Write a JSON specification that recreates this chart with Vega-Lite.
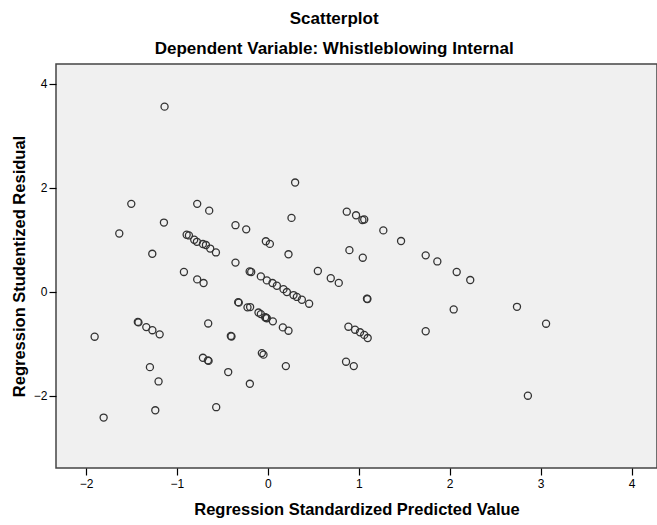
{
  "$schema": "https://vega.github.io/schema/vega-lite/v6.json",
  "width": 601,
  "height": 404,
  "padding": {"left": 56, "top": 64, "right": 0, "bottom": 57},
  "autosize": {"type": "none"},
  "background": "white",
  "config": {
    "font": "Liberation Sans",
    "view": {"fill": "#f0f0f0", "stroke": "#444444", "strokeWidth": 1.5}
  },
  "title": {
    "text": "Scatterplot",
    "subtitle": "Dependent Variable: Whistleblowing Internal",
    "anchor": "middle",
    "frame": "bounds",
    "font": "Liberation Sans",
    "fontSize": 17,
    "fontWeight": "bold",
    "color": "#000000",
    "subtitleFont": "Liberation Sans",
    "subtitleFontSize": 17,
    "subtitleFontWeight": "bold",
    "subtitleColor": "#000000",
    "subtitlePadding": 13,
    "offset": 6
  },
  "data": {
    "values": [
      {"x": -1.136, "y": 3.56},
      {"x": -1.502, "y": 1.69},
      {"x": -1.634, "y": 1.12},
      {"x": -1.143, "y": 1.33},
      {"x": -1.271, "y": 0.73},
      {"x": -0.777, "y": 1.69},
      {"x": -0.645, "y": 1.56},
      {"x": -0.356, "y": 1.28},
      {"x": -0.238, "y": 1.2},
      {"x": -0.356, "y": 0.56},
      {"x": -0.893, "y": 1.096},
      {"x": -0.868, "y": 1.083},
      {"x": -0.81, "y": 1.0},
      {"x": -0.78, "y": 0.96},
      {"x": -0.714, "y": 0.917},
      {"x": -0.681, "y": 0.898},
      {"x": -0.634, "y": 0.83},
      {"x": -0.571, "y": 0.756},
      {"x": -0.022, "y": 0.97},
      {"x": 0.022, "y": 0.92},
      {"x": 0.3, "y": 2.1},
      {"x": 0.26, "y": 1.42},
      {"x": 0.227, "y": 0.72},
      {"x": 0.868, "y": 1.54},
      {"x": 0.97, "y": 1.47},
      {"x": 1.04, "y": 1.38},
      {"x": 1.06, "y": 1.39},
      {"x": 1.27, "y": 1.18},
      {"x": 1.465, "y": 0.975},
      {"x": 0.897, "y": 0.8},
      {"x": 1.044, "y": 0.654},
      {"x": 1.736, "y": 0.7},
      {"x": 1.864, "y": 0.583},
      {"x": 2.077, "y": 0.38},
      {"x": 2.226, "y": 0.225},
      {"x": 2.044, "y": -0.34},
      {"x": 2.74, "y": -0.29},
      {"x": 3.06, "y": -0.615},
      {"x": 2.86, "y": -2.0},
      {"x": 0.55, "y": 0.4},
      {"x": 0.692, "y": 0.26},
      {"x": 0.78, "y": 0.17},
      {"x": 1.09, "y": -0.135},
      {"x": 1.095, "y": -0.14},
      {"x": 1.736, "y": -0.76},
      {"x": -0.2, "y": 0.39},
      {"x": -0.183, "y": 0.38},
      {"x": -0.077, "y": 0.295},
      {"x": -0.011, "y": 0.218},
      {"x": 0.051, "y": 0.167},
      {"x": 0.099, "y": 0.115},
      {"x": 0.172, "y": 0.05},
      {"x": 0.209, "y": -0.006},
      {"x": 0.282, "y": -0.064},
      {"x": 0.319, "y": -0.1},
      {"x": 0.374, "y": -0.154},
      {"x": 0.454, "y": -0.23},
      {"x": -0.195, "y": -0.295},
      {"x": -0.224, "y": -0.3},
      {"x": -0.103, "y": -0.4},
      {"x": -0.077, "y": -0.43},
      {"x": -0.03, "y": -0.49},
      {"x": -0.011, "y": -0.51},
      {"x": -0.02, "y": -0.5},
      {"x": 0.055, "y": -0.57},
      {"x": 0.165, "y": -0.686},
      {"x": 0.227, "y": -0.75},
      {"x": -0.066, "y": -1.18},
      {"x": -0.048, "y": -1.21},
      {"x": 0.198, "y": -1.43},
      {"x": 0.886, "y": -0.673},
      {"x": 0.959, "y": -0.73},
      {"x": 1.014, "y": -0.78},
      {"x": 1.06, "y": -0.83},
      {"x": 1.098, "y": -0.89},
      {"x": 0.86, "y": -1.346},
      {"x": 0.945, "y": -1.43},
      {"x": -0.198, "y": -1.77},
      {"x": -0.923, "y": 0.38},
      {"x": -0.777, "y": 0.237},
      {"x": -0.707, "y": 0.167},
      {"x": -0.326, "y": -0.2},
      {"x": -0.32, "y": -0.21},
      {"x": -0.656, "y": -0.61},
      {"x": -0.407, "y": -0.85},
      {"x": -0.4, "y": -0.86},
      {"x": -0.714, "y": -1.27},
      {"x": -0.659, "y": -1.32},
      {"x": -0.652, "y": -1.33},
      {"x": -0.436, "y": -1.545},
      {"x": -0.568, "y": -2.22},
      {"x": -1.905, "y": -0.865},
      {"x": -1.43, "y": -0.58},
      {"x": -1.423, "y": -0.59},
      {"x": -1.337, "y": -0.68},
      {"x": -1.27, "y": -0.74},
      {"x": -1.19, "y": -0.82},
      {"x": -1.297, "y": -1.45},
      {"x": -1.202, "y": -1.725},
      {"x": -1.238, "y": -2.28},
      {"x": -1.806, "y": -2.42}
    ]
  },
  "mark": {"type": "point", "shape": "circle", "filled": false, "size": 50, "stroke": "#333333", "strokeWidth": 1.3, "opacity": 1, "clip": true},
  "encoding": {
    "x": {
      "field": "x",
      "type": "quantitative",
      "scale": {"domain": [-2.33, 4.28], "nice": false, "zero": false},
      "axis": {
        "values": [-2, -1, 0, 1, 2, 3, 4],
        "title": "Regression Standardized Predicted Value",
        "titleFont": "Liberation Sans",
        "titleFontSize": 16.5,
        "titleFontWeight": "bold",
        "titleColor": "#000000",
        "titlePadding": 12,
        "labelFont": "Liberation Sans",
        "labelFontSize": 12,
        "labelColor": "#000000",
        "labelPadding": 3,
        "tickSize": 7,
        "tickColor": "#000000",
        "tickWidth": 1.2,
        "domain": false,
        "grid": false
      }
    },
    "y": {
      "field": "y",
      "type": "quantitative",
      "scale": {"domain": [-3.39, 4.38], "nice": false, "zero": false},
      "axis": {
        "values": [-2, 0, 2, 4],
        "title": "Regression Studentized Residual",
        "titleFont": "Liberation Sans",
        "titleFontSize": 16.5,
        "titleFontWeight": "bold",
        "titleColor": "#000000",
        "titlePadding": 6,
        "labelFont": "Liberation Sans",
        "labelFontSize": 12,
        "labelColor": "#000000",
        "labelPadding": 2,
        "tickSize": 7,
        "tickColor": "#000000",
        "tickWidth": 1.2,
        "domain": false,
        "grid": false
      }
    }
  }
}
